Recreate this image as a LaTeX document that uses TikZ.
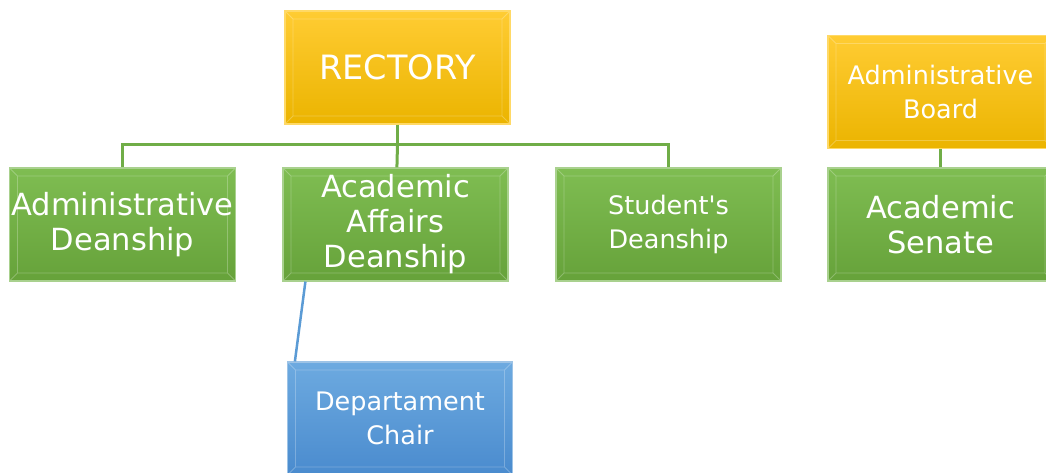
\documentclass[tikz,border=0pt]{standalone}
\usepackage{fontspec}
\setmainfont{DejaVu Sans}
\definecolor{goldtop}{HTML}{FFCC33}
\definecolor{goldbot}{HTML}{EBB400}
\definecolor{goldedge}{HTML}{FFD966}
\definecolor{greentop}{HTML}{7FBD52}
\definecolor{greenbot}{HTML}{66A23A}
\definecolor{greenedge}{HTML}{A9D18E}
\definecolor{bluetop}{HTML}{6DAAE0}
\definecolor{bluebot}{HTML}{4A8BCE}
\definecolor{blueedge}{HTML}{9DC3E6}
\definecolor{linkgreen}{HTML}{70AD47}
\definecolor{linkblue}{HTML}{5B9BD5}
\tikzset{
  box/.style={rectangle, minimum width=225pt, minimum height=113pt, inner sep=2pt,
    align=center, text=white, font=\fontsize{30.5}{35}\selectfont, line width=1.2pt,
    path picture={\draw[white, opacity=.25, line width=.8pt]
      ([shift={(8pt,-8pt)}]path picture bounding box.north west) rectangle
      ([shift={(-8pt,8pt)}]path picture bounding box.south east)
      (path picture bounding box.north west) -- ([shift={(8pt,-8pt)}]path picture bounding box.north west)
      (path picture bounding box.north east) -- ([shift={(-8pt,-8pt)}]path picture bounding box.north east)
      (path picture bounding box.south west) -- ([shift={(8pt,8pt)}]path picture bounding box.south west)
      (path picture bounding box.south east) -- ([shift={(-8pt,8pt)}]path picture bounding box.south east);}},
  goldbox/.style={box, top color=goldtop, bottom color=goldbot, draw=goldedge},
  greenbox/.style={box, top color=greentop, bottom color=greenbot, draw=greenedge},
  bluebox/.style={box, top color=bluetop, bottom color=bluebot, draw=blueedge},
  small/.style={font=\fontsize{25.5}{34}\selectfont},
  big/.style={font=\fontsize{33.5}{38}\selectfont},
  link/.style={draw=linkgreen, line width=3pt},
  bluelink/.style={draw=linkblue, line width=2.5pt}
}
\begin{document}
\begin{tikzpicture}[x=1pt, y=-1pt]
            \useasboundingbox (0,0) rectangle (1046,472);
            \clip (0,0) rectangle (1046,472);
            \node[goldbox, big] (rect) at (397.5, 67.5){RECTORY};
            \node[greenbox] (adm) at (122.5, 224.5){Administrative\\Deanship};
            \node[greenbox] (aad) at (395.5, 224.5){Academic\\Affairs\\Deanship};
            \node[greenbox, small] (stu) at (668.5, 224.5){Student\textquotesingle s\\Deanship};
            \node[goldbox, small] (board) at (940.5, 92){Administrative\\Board};
            \node[greenbox] (senate) at (940.5, 224.5){Academic\\Senate};
            \node[bluebox, small] (dept) at (400, 418.5){Departament\\Chair};
            \coordinate (hub) at (397.5, 144);
            \draw[link] (rect) -- (hub);
            \draw[link] (hub) -| (adm);
            \draw[link] (hub) -- (aad);
            \draw[link] (hub) -| (stu);
            \draw[link] (board) -- (senate);
            \draw[bluelink] ([xshift=23pt]aad.south west) -- ([xshift=8pt]dept.north west);
        \end{tikzpicture}
\end{document}
